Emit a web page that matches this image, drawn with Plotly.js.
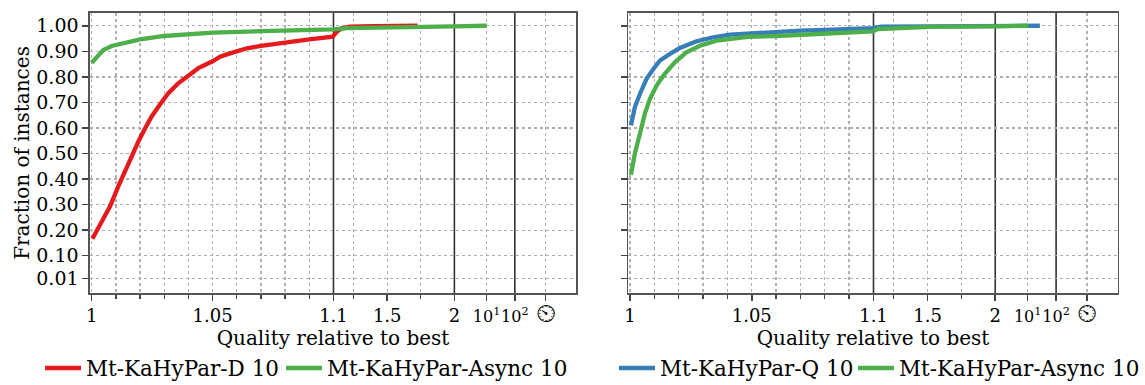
<!DOCTYPE html>
<html>
<head>
<meta charset="utf-8">
<script src="https://cdn.plot.ly/plotly-3.0.1.min.js"></script>
<style>
  html, body { margin: 0; padding: 0; background: #fff; }
  #chart { width: 1145px; height: 385px; }
</style>
</head>
<body>
<div id="chart"></div>
<script>
// ---------------- data (quality ratio -> fraction of instances) ----------------
const leftD_ratio = [1.0003, 1.0027, 1.0076, 1.011, 1.0152, 1.0193, 1.0221, 1.0248, 1.0283, 1.0317, 1.0358, 1.04, 1.0441, 1.05, 1.0531, 1.0572, 1.0642, 1.07, 1.08, 1.09, 1.0997, 1.125, 1.162, 1.223, 1.4, 1.726];
const leftD_frac  = [0.166, 0.209, 0.293, 0.371, 0.462, 0.547, 0.599, 0.645, 0.693, 0.736, 0.775, 0.807, 0.834, 0.861, 0.879, 0.892, 0.912, 0.921, 0.935, 0.947, 0.957, 0.977, 0.990, 0.997, 0.999, 1.0];

const leftAsync_ratio = [1.0, 1.0021, 1.0048, 1.0083, 1.0138, 1.02, 1.03, 1.04, 1.05, 1.07, 1.09, 1.1, 1.2, 1.5, 2.0, 10.2];
const leftAsync_frac  = [0.855, 0.879, 0.905, 0.921, 0.935, 0.947, 0.960, 0.968, 0.973, 0.979, 0.983, 0.986, 0.991, 0.995, 0.998, 1.0];

const rightQ_ratio = [1.0004, 1.002, 1.0041, 1.0068, 1.0096, 1.0123, 1.0164, 1.0205, 1.0273, 1.0342, 1.041, 1.0485, 1.06, 1.07, 1.08, 1.09, 1.0997, 1.157, 1.5, 2.0, 27];
const rightQ_frac  = [0.610, 0.682, 0.734, 0.792, 0.831, 0.864, 0.890, 0.913, 0.939, 0.955, 0.965, 0.970, 0.974, 0.981, 0.984, 0.988, 0.991, 0.997, 0.999, 1.0, 1.0];

const rightAsync_ratio = [1.0004, 1.002, 1.0041, 1.0061, 1.0082, 1.0109, 1.0143, 1.0184, 1.0232, 1.0287, 1.0355, 1.0424, 1.0485, 1.06, 1.07, 1.08, 1.09, 1.0997, 1.132, 1.514, 2.0, 10.5];
const rightAsync_frac  = [0.416, 0.500, 0.578, 0.656, 0.714, 0.766, 0.812, 0.857, 0.896, 0.922, 0.942, 0.952, 0.957, 0.960, 0.964, 0.970, 0.974, 0.978, 0.987, 0.996, 0.998, 1.0];

const seriesNames = ["Mt-KaHyPar-D 10", "Mt-KaHyPar-Async 10", "Mt-KaHyPar-Q 10", "Mt-KaHyPar-Async 10"];

const xMajorTicks  = [1, 1.05, 1.1, 1.5, 2, 10, 100, "timeout"];
const xMajorLabels = ["1", "1.05", "1.1", "1.5", "2",
                      '<span style="font-size:16px">10<sup>1</sup></span>',
                      '<span style="font-size:16px">10<sup>2</sup></span>',
                      '<span style="font-size:26px">\u23F2</span>'];
const xMinorTicks  = [1.01, 1.02, 1.03, 1.04, 1.06, 1.07, 1.08, 1.09, 1.25, 1.75];
const xSeparators  = [1.1, 2, 100];

const yTicks  = [0.01, 0.1, 0.2, 0.3, 0.4, 0.5, 0.6, 0.7, 0.8, 0.9, 1.0];
const yLabels = yTicks.map(v => v.toFixed(2));

// --------------- segmented x scale: linear [1,1.1], linear [1.1,2], log [2,100], timeout ---------------
function tx(r) {
  if (r === "timeout") return 1.877;
  if (r <= 1.1) return (r - 1) / 0.1;
  if (r <= 2) return 1 + (r - 1.1) / 0.9 * 0.5;
  if (r <= 10) return 1.5 + Math.log10(r / 2) / Math.log10(5) * 0.133;
  return 1.633 + Math.log10(r / 10) * 0.117;
}

const RED = "#e41a1c", GREEN = "#4daf4a", BLUE = "#377eb8";
const FONT = "DejaVu Serif";
const LW = 4.3;

const traces = [
  {x: leftD_ratio.map(tx), y: leftD_frac, name: seriesNames[0], xaxis: "x", yaxis: "y", legend: "legend",
   mode: "lines", line: {color: RED, width: LW}},
  {x: leftAsync_ratio.map(tx), y: leftAsync_frac, name: seriesNames[1], xaxis: "x", yaxis: "y", legend: "legend2",
   mode: "lines", line: {color: GREEN, width: LW}},
  {x: rightQ_ratio.map(tx), y: rightQ_frac, name: seriesNames[2], xaxis: "x2", yaxis: "y2", legend: "legend3",
   mode: "lines", line: {color: BLUE, width: LW}},
  {x: rightAsync_ratio.map(tx), y: rightAsync_frac, name: seriesNames[3], xaxis: "x2", yaxis: "y2", legend: "legend4",
   mode: "lines", line: {color: GREEN, width: LW}}
];

// dotted grid everywhere except at the solid separator lines
const xGridVals = xMajorTicks.concat(xMinorTicks).filter(v => xSeparators.indexOf(v) < 0);

function xAxis(domain, anchor) {
  return {
    domain: domain, anchor: anchor, range: [-0.007, 2.003],
    tickmode: "array", tickvals: xMajorTicks.map(tx), ticktext: xMajorLabels, tickangle: 0,
    ticks: "outside", ticklen: 6, tickwidth: 1.5, tickcolor: "#444",
    showgrid: false,
    minor: {tickmode: "array", tickvals: xGridVals.map(tx), ticks: "outside", ticklen: 4, tickwidth: 1.3, tickcolor: "#444",
            showgrid: true, gridcolor: "#b0b0b0", gridwidth: 1.3, griddash: "3px,3px"},
    showline: true, mirror: true, linecolor: "#555", linewidth: 1.6, zeroline: false,
    tickfont: {family: FONT, size: 18, color: "#000"},
    title: {text: "Quality relative to best", font: {family: FONT, size: 20, color: "#000"}, standoff: 2},
    automargin: false, fixedrange: true
  };
}
function yAxis(domain, anchor, labels) {
  return {
    domain: domain, anchor: anchor, range: [-0.046, 1.05],
    tickmode: "array", tickvals: yTicks, ticktext: yLabels, showticklabels: labels,
    ticks: "outside", ticklen: 6, tickwidth: 1.5, tickcolor: "#444",
    showgrid: true, gridcolor: "#b0b0b0", gridwidth: 1.3, griddash: "3px,3px",
    showline: true, mirror: true, linecolor: "#555", linewidth: 1.6, zeroline: false,
    tickfont: {family: FONT, size: 19, color: "#000"},
    title: labels ? {text: "Fraction of instances", font: {family: FONT, size: 20, color: "#000"}} : undefined,
    automargin: false, fixedrange: true
  };
}

const yDom = [1 - 293 / 385, 1 - 13 / 385];
const shapes = [];
[["x", "y"], ["x2", "y2"]].forEach(([ax, ay]) => {
  xSeparators.forEach(v => {
    shapes.push({type: "line", xref: ax, yref: ay, x0: tx(v), x1: tx(v), y0: -0.046, y1: 1.05,
                 line: {color: "#333", width: 1.6}, layer: "below"});
  });
});

function legendAt(px) {
  return {orientation: "h", x: px / 1145, xanchor: "left", y: 17 / 385, yanchor: "middle",
          itemwidth: 36, bgcolor: "rgba(0,0,0,0)", borderwidth: 0,
          font: {family: FONT, size: 21.5, color: "#000"}};
}

const layout = {
  width: 1145, height: 385,
  margin: {l: 0, r: 0, t: 0, b: 0, autoexpand: false},
  paper_bgcolor: "#fff", plot_bgcolor: "#fff",
  font: {family: FONT, size: 20, color: "#000"},
  xaxis: xAxis([90 / 1145, 576 / 1145], "y"),
  yaxis: yAxis(yDom, "x", true),
  xaxis2: xAxis([628.3 / 1145, 1117.7 / 1145], "y2"),
  yaxis2: yAxis(yDom, "x2", false),
  shapes: shapes,
  legend: legendAt(40),
  legend2: legendAt(281),
  legend3: legendAt(614),
  legend4: legendAt(853),
  showlegend: true
};

Plotly.newPlot("chart", traces, layout, {displayModeBar: false, staticPlot: true});
</script>
</body>
</html>
